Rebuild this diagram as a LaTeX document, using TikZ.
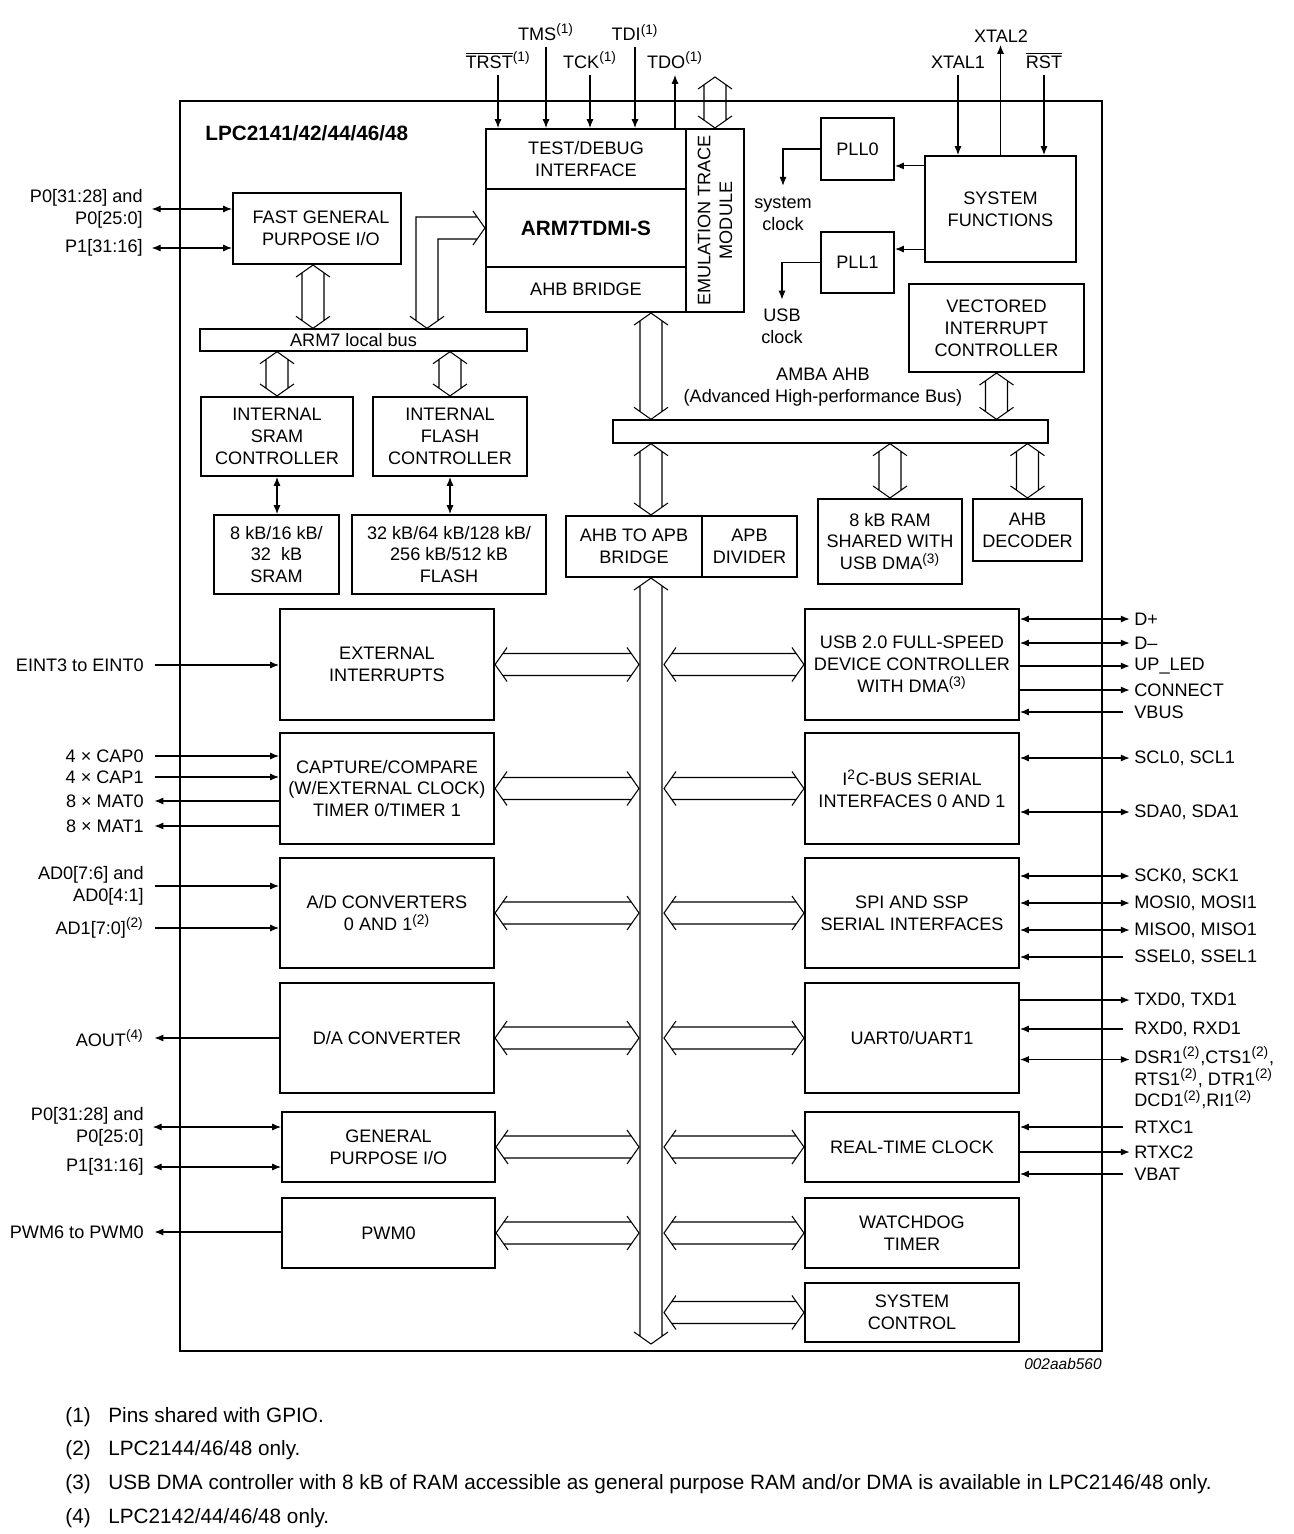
\documentclass[tikz,border=0pt]{standalone}
\usepackage{fontspec}
\setmainfont{Liberation Sans}
\usetikzlibrary{arrows.meta,calc,fit}

%note marks, a bit larger than \textsuperscript gives
\newcommand{\supr}[1]{\textsuperscript{\fontsize{7.8}{8}\selectfont #1}}
%hollow double arrow (bus), top tip #1, bottom tip #2
\newcommand{\vhol}[2]{\draw[hol] ($(#1)+(-17,12)$) -- (#1) -- ($(#1)+(17,12)$)
  ($(#2)+(-17,-12)$) -- (#2) -- ($(#2)+(17,-12)$)
  ($(#1)+(-11,8)$) -- ($(#2)+(-11,-8)$)
  ($(#1)+(11,8)$) -- ($(#2)+(11,-8)$);}
%hollow double arrow (bus), left tip #1, right tip #2
\newcommand{\hhol}[2]{\draw[hol] ($(#1)+(12,-17)$) -- (#1) -- ($(#1)+(12,17)$)
  ($(#2)+(-12,-17)$) -- (#2) -- ($(#2)+(-12,17)$)
  ($(#1)+(8,-11)$) -- ($(#2)+(-8,-11)$)
  ($(#1)+(8,11)$) -- ($(#2)+(-8,11)$);}

\begin{document}
\begin{tikzpicture}[x=0.02cm, y=-0.02cm, font=\fontsize{10.3}{12.5}\selectfont,
  blk/.style={draw, line width=1.2pt, inner sep=0pt, label={[align=center]center:{#1}}},
  blk/.default={},
  busbar/.style={draw, line width=0.8pt, inner sep=0pt},
  hol/.style={line width=0.6pt},
  sig/.style={line width=0.6pt, -{Latex[length=5pt,width=4pt]}},
  bsig/.style={line width=0.6pt, {Latex[length=5pt,width=4pt]}-{Latex[length=5pt,width=4pt]}},
  pinl/.style={anchor=east, inner sep=0pt, align=right},
  pinr/.style={anchor=west, inner sep=0pt, align=left},
  tpin/.style={anchor=south, inner sep=0pt, yshift=3.5pt},
  fnote/.style={anchor=base west, inner sep=0pt, font=\fontsize{11.8}{14}\selectfont}]

\useasboundingbox (0,0) rectangle (1294,1534);

%----------------------------------------------------
%Chip outline and title
%----------------------------------------------------
\node[draw, line width=1.3pt, inner sep=0pt, fit={(180,101)(1102,1351)}] (CHIP) {};
\node[anchor=west, inner sep=0pt, font=\fontsize{11.8}{14}\bfseries] (title) at (205,133) {LPC2141/42/44/46/48};
\node[anchor=east, inner sep=0pt, font=\fontsize{8.8}{10}\itshape] (code) at (1102,1364) {002aab560};

%----------------------------------------------------
%CPU core blocks (text sits in a centred label)
%----------------------------------------------------
\node[blk={TEST/DEBUG\\INTERFACE}, fit={(486,129)(686,189)}] (TDBG) {};
\node[blk, fit={(486,189)(686,267)}] (ARM) {};
\node[font=\fontsize{11.8}{14}\bfseries] (armt) at (ARM.center) {ARM7TDMI-S};
\node[blk={AHB BRIDGE}, fit={(486,267)(686,312)}] (AHBB) {};
\node[blk, fit={(686,129)(744,312)}] (ETM) {};
\node[rotate=90, align=center] (etmt) at (ETM.center) {EMULATION TRACE\\MODULE}; %text turned up the side of the box

%clock and system blocks
\node[blk={PLL0}, fit={(821,118)(894,180)}] (PLL0) {};
\node[blk={PLL1}, fit={(821,232)(894,293)}] (PLL1) {};
\node[blk={SYSTEM\\FUNCTIONS}, fit={(925,156)(1076,262)}] (SF) {};
\node[blk={VECTORED\\INTERRUPT\\CONTROLLER}, fit={(909,284)(1084,372)}] (VIC) {};

%local bus side
\node[blk, fit={(233,193)(401,264)}] (FGPIO) {};
\node[align=center] (fgpiot) at ($(FGPIO.center)+(4,0)$) {FAST GENERAL\\PURPOSE I/O};
\node[busbar, fit={(200,329)(527,351)}] (LBUS) {};
\node (lbust) at ($(LBUS.center)+(-10,0)$) {ARM7 local bus};
\node[blk={INTERNAL\\SRAM\\CONTROLLER}, fit={(201,397)(353,476)}] (SRAMC) {};
\node[blk={INTERNAL\\FLASH\\CONTROLLER}, fit={(373,397)(527,476)}] (FLASHC) {};
\node[blk={8 kB/16 kB/\\32~~kB\\SRAM}, fit={(214,515)(339,594)}] (SRAM) {};
\node[blk={32 kB/64 kB/128 kB/\\256 kB/512 kB\\FLASH}, fit={(352,515)(546,594)}] (FLASH) {};

%AMBA AHB side
\node[busbar, fit={(613,420)(1048,443)}] (AMBA) {};
\node[align=center] (ambat) at (823,387) {AMBA AHB\\(Advanced High-performance Bus)};
\node[blk={AHB TO APB\\BRIDGE}, fit={(566,516)(702,577)}] (APB) {};
\node[blk={APB\\DIVIDER}, fit={(702,516)(797,577)}] (APBD) {};
\node[blk={8 kB RAM\\SHARED WITH\\USB DMA\supr{(3)}}, fit={(818,499)(962,584)}] (RAM8) {};
\node[blk={AHB\\DECODER}, fit={(973,499)(1082,561)}] (AHBD) {};

%----------------------------------------------------
%Peripherals on the APB bus
%----------------------------------------------------
\node[blk={EXTERNAL\\INTERRUPTS}, fit={(280,609)(494,720)}] (EXTI) {};
\node[blk={CAPTURE/COMPARE\\(W/EXTERNAL CLOCK)\\TIMER 0/TIMER 1}, fit={(280,733)(494,844)}] (CAP) {};
\node[blk={A/D CONVERTERS\\0 AND 1\supr{(2)}}, fit={(280,858)(494,968)}] (ADC) {};
\node[blk={D/A CONVERTER}, fit={(280,983)(494,1093)}] (DAC) {};
\node[blk={GENERAL\\PURPOSE I/O}, fit={(282,1112)(495,1182)}] (GPIO) {};
\node[blk={PWM0}, fit={(282,1198)(495,1268)}] (PWM) {};

\node[blk={USB 2.0 FULL-SPEED\\DEVICE CONTROLLER\\WITH DMA\supr{(3)}}, fit={(805,609)(1019,720)}] (USB) {};
\node[blk={I\supr{2}C-BUS SERIAL\\INTERFACES 0 AND 1}, fit={(805,733)(1019,844)}] (I2C) {};
\node[blk={SPI AND SSP\\SERIAL INTERFACES}, fit={(805,858)(1019,968)}] (SPI) {};
\node[blk={UART0/UART1}, fit={(805,983)(1019,1093)}] (UART) {};
\node[blk={REAL-TIME CLOCK}, fit={(805,1112)(1019,1182)}] (RTC) {};
\node[blk={WATCHDOG\\TIMER}, fit={(805,1198)(1019,1268)}] (WDT) {};
\node[blk={SYSTEM\\CONTROL}, fit={(805,1283)(1019,1342)}] (SYSC) {};

%----------------------------------------------------
%Buses (hollow arrows)
%----------------------------------------------------
\coordinate (apbx) at (651,0); %axis of the vertical buses
\coordinate (apbl) at (639,0);
\coordinate (apbr) at (664,0);
\coordinate (lbx) at (427,0);
\coordinate (fbx) at (313,0);

\vhol{715,77}{ETM.north}
\vhol{fbx |- FGPIO.south}{fbx |- LBUS.north}
\vhol{SRAMC.north |- LBUS.south}{SRAMC.north}
\vhol{FLASHC.north |- LBUS.south}{FLASHC.north}
\vhol{apbx |- AHBB.south}{apbx |- AMBA.north}
\vhol{VIC.south}{VIC.south |- AMBA.north}
\vhol{apbx |- AMBA.south}{apbx |- APB.north}
\vhol{RAM8.north |- AMBA.south}{RAM8.north}
\vhol{AHBD.north |- AMBA.south}{AHBD.north}
\vhol{apbx |- APB.south}{651,1344} %APB bus

%bent bus from the local bus up to the core
\coordinate (lbt) at (lbx |- LBUS.north);
\draw[hol] ($(lbt)+(-17,-12)$) -- (lbt) -- ($(lbt)+(17,-12)$)
  ($(ARM.west)+(-12,-17)$) -- (ARM.west) -- ($(ARM.west)+(-12,17)$)
  ($(lbt)+(-11,-8)$) |- ($(ARM.west)+(-8,-11)$)
  ($(lbt)+(11,-8)$) |- ($(ARM.west)+(-8,11)$);

%APB bus to the peripherals
\hhol{EXTI.east}{EXTI.east -| apbl}
\hhol{CAP.east}{CAP.east -| apbl}
\hhol{ADC.east}{ADC.east -| apbl}
\hhol{DAC.east}{DAC.east -| apbl}
\hhol{GPIO.east}{GPIO.east -| apbl}
\hhol{PWM.east}{PWM.east -| apbl}
\hhol{apbr |- USB.west}{USB.west}
\hhol{apbr |- I2C.west}{I2C.west}
\hhol{apbr |- SPI.west}{SPI.west}
\hhol{apbr |- UART.west}{UART.west}
\hhol{apbr |- RTC.west}{RTC.west}
\hhol{apbr |- WDT.west}{WDT.west}
\hhol{apbr |- SYSC.west}{SYSC.west}

%memory controllers to memories
\draw[bsig] (SRAMC.south) -- (SRAMC.south |- SRAM.north);
\draw[bsig] (FLASHC.south) -- (FLASHC.south |- FLASH.north);

%----------------------------------------------------
%JTAG and clock pins at the top
%----------------------------------------------------
\coordinate (trstp) at (498,75);
\node[tpin] (trst) at (trstp) {$\overline{\mbox{TRST}}$\supr{(1)}};
\draw[sig] (trstp) -- (trstp |- TDBG.north);
\coordinate (tmsp) at (546,47);
\node[tpin] (tms) at (tmsp) {TMS\supr{(1)}};
\draw[sig] (tmsp) -- (tmsp |- TDBG.north);
\coordinate (tckp) at (590,75);
\node[tpin] (tck) at (tckp) {TCK\supr{(1)}};
\draw[sig] (tckp) -- (tckp |- TDBG.north);
\coordinate (tdip) at (635,47);
\node[tpin] (tdi) at (tdip) {TDI\supr{(1)}};
\draw[sig] (tdip) -- (tdip |- TDBG.north);
\coordinate (tdop) at (675,75);
\node[tpin] (tdo) at (tdop) {TDO\supr{(1)}};
\draw[sig] (tdop |- TDBG.north) -- (tdop); %TDO is an output

\coordinate (xtal1p) at (958,75);
\node[tpin] (xtal1) at (xtal1p) {XTAL1};
\draw[sig] (xtal1p) -- (xtal1p |- SF.north);
\coordinate (xtal2p) at (1001,45);
\node[tpin, yshift=-2pt] (xtal2) at (xtal2p) {XTAL2};
\draw[sig] (SF.north) -- (SF.north |- xtal2p);
\coordinate (rstp) at (1044,75);
\node[tpin] (rst) at (rstp) {$\overline{\mbox{RST}}$};
\draw[sig] (rstp) -- (rstp |- SF.north);

%PLLs
\coordinate (sf0) at ([yshift=-0.22cm]SF.north west);
\coordinate (sf1) at ([yshift=0.28cm]SF.south west);
\draw[sig] (sf0) -- (sf0 -| PLL0.east);
\draw[sig] (sf1) -- (sf1 -| PLL1.east);
\node[align=center, inner sep=0pt] (sysclk) at (783,213.5) {system\\clock};
\node[align=center, inner sep=0pt] (usbclk) at (782,326) {USB\\clock};
\draw[sig, shorten >=6pt] (PLL0.west) -| (sysclk.north);
\draw[sig, shorten >=5pt] (PLL1.west) -| (usbclk.north);

%----------------------------------------------------
%Pins on the left
%----------------------------------------------------
\node[pinl] (fp0) at (143,209) {P0[31:28] and\\P0[25:0]};
\draw[bsig, shorten <=5pt] (fp0.east) -- (fp0.east -| FGPIO.west);
\node[pinl] (fp1) at (143,248) {P1[31:16]};
\draw[bsig, shorten <=5pt] (fp1.east) -- (fp1.east -| FGPIO.west);

\node[pinl] (eint) at (144,665) {EINT3 to EINT0};
\draw[sig, shorten <=6pt] (eint.east) -- (eint.east -| EXTI.west);

\node[pinl] (cap0) at (144,756) {4 × CAP0};
\draw[sig, shorten <=6pt] (cap0.east) -- (cap0.east -| CAP.west);
\node[pinl] (cap1) at (144,777) {4 × CAP1};
\draw[sig, shorten <=6pt] (cap1.east) -- (cap1.east -| CAP.west);
\node[pinl] (mat0) at (144,801) {8 × MAT0};
\draw[sig, shorten >=6pt] (mat0.east -| CAP.west) -- (mat0.east);
\node[pinl] (mat1) at (144,826) {8 × MAT1};
\draw[sig, shorten >=6pt] (mat1.east -| CAP.west) -- (mat1.east);

\node[pinl] (ad0) at (144,886) {AD0[7:6] and\\AD0[4:1]};
\draw[sig, shorten <=6pt] (ad0.east) -- (ad0.east -| ADC.west);
\node[pinl] (ad1) at (144,928) {AD1[7:0]\supr{(2)}};
\draw[sig, shorten <=6pt] (ad1.east) -- (ad1.east -| ADC.west);

\node[pinl] (aout) at (144,1038) {AOUT\supr{(4)}};
\draw[sig, shorten >=6pt] (aout.east -| DAC.west) -- (aout.east);

\node[pinl] (gp0) at (144,1127) {P0[31:28] and\\P0[25:0]};
\draw[bsig, shorten <=5pt] (gp0.east) -- (gp0.east -| GPIO.west);
\node[pinl] (gp1) at (144,1167) {P1[31:16]};
\draw[bsig, shorten <=5pt] (gp1.east) -- (gp1.east -| GPIO.west);

\node[pinl] (pwmp) at (144,1232) {PWM6 to PWM0};
\draw[sig, shorten >=6pt] (pwmp.east -| PWM.west) -- (pwmp.east);

%----------------------------------------------------
%Pins on the right
%----------------------------------------------------
\node[pinr] (dp) at (1134,619) {D+};
\draw[bsig, shorten >=2.5pt] (dp.west -| USB.east) -- (dp.west);
\node[pinr] (dm) at (1134,643) {D–};
\draw[bsig, shorten >=2.5pt] (dm.west -| USB.east) -- (dm.west);
\node[pinr] (upled) at (1134,666) {UP\_LED};
\draw[sig, shorten >=2.5pt] (upled.west -| USB.east) -- (upled.west);
\node[pinr] (conn) at (1134,690) {CONNECT};
\draw[sig, shorten >=2.5pt] (conn.west -| USB.east) -- (conn.west);
\node[pinr] (vbus) at (1134,712) {VBUS};
\draw[sig, shorten <=6pt] (vbus.west) -- (vbus.west -| USB.east);

\node[pinr] (scl) at (1134,758) {SCL0, SCL1};
\draw[bsig, shorten >=2.5pt] (scl.west -| I2C.east) -- (scl.west);
\node[pinr] (sda) at (1134,812) {SDA0, SDA1};
\draw[bsig, shorten >=2.5pt] (sda.west -| I2C.east) -- (sda.west);

\node[pinr] (sck) at (1134,876) {SCK0, SCK1};
\draw[bsig, shorten >=2.5pt] (sck.west -| SPI.east) -- (sck.west);
\node[pinr] (mosi) at (1134,903) {MOSI0, MOSI1};
\draw[bsig, shorten >=2.5pt] (mosi.west -| SPI.east) -- (mosi.west);
\node[pinr] (miso) at (1134,930) {MISO0, MISO1};
\draw[bsig, shorten >=2.5pt] (miso.west -| SPI.east) -- (miso.west);
\node[pinr] (ssel) at (1134,957) {SSEL0, SSEL1};
\draw[sig, shorten <=6pt] (ssel.west) -- (ssel.west -| SPI.east);

\node[pinr] (txd) at (1134,1000) {TXD0, TXD1};
\draw[sig, shorten >=2.5pt] (txd.west -| UART.east) -- (txd.west);
\node[pinr] (rxd) at (1134,1029) {RXD0, RXD1};
\draw[sig, shorten <=6pt] (rxd.west) -- (rxd.west -| UART.east);
\node[pinr] (modem) at (1134,1078) {DSR1\supr{(2)},CTS1\supr{(2)},\\RTS1\supr{(2)}, DTR1\supr{(2)}\\DCD1\supr{(2)},RI1\supr{(2)}};
\coordinate (modemp) at ([yshift=0.37cm]modem.west); %arrow at the first line
\draw[bsig, shorten >=2.5pt] (modemp -| UART.east) -- (modemp);

\node[pinr] (rtxc1) at (1134,1127) {RTXC1};
\draw[sig, shorten <=6pt] (rtxc1.west) -- (rtxc1.west -| RTC.east);
\node[pinr] (rtxc2) at (1134,1152) {RTXC2};
\draw[sig, shorten >=2.5pt] (rtxc2.west -| RTC.east) -- (rtxc2.west);
\node[pinr] (vbat) at (1134,1174) {VBAT};
\draw[sig, shorten <=6pt] (vbat.west) -- (vbat.west -| RTC.east);

%----------------------------------------------------
%Notes
%----------------------------------------------------
\node[fnote] (fn1) at (65,1422) {(1)};
\node[fnote] (ft1) at (108,1422) {Pins shared with GPIO.};
\node[fnote] (fn2) at (65,1455) {(2)};
\node[fnote] (ft2) at (108,1455) {LPC2144/46/48 only.};
\node[fnote] (fn3) at (65,1489) {(3)};
\node[fnote] (ft3) at (108,1489) {USB DMA controller with 8 kB of RAM accessible as general purpose RAM and/or DMA is available in LPC2146/48 only.};
\node[fnote] (fn4) at (65,1523) {(4)};
\node[fnote] (ft4) at (108,1523) {LPC2142/44/46/48 only.};

\end{tikzpicture}
\end{document}
